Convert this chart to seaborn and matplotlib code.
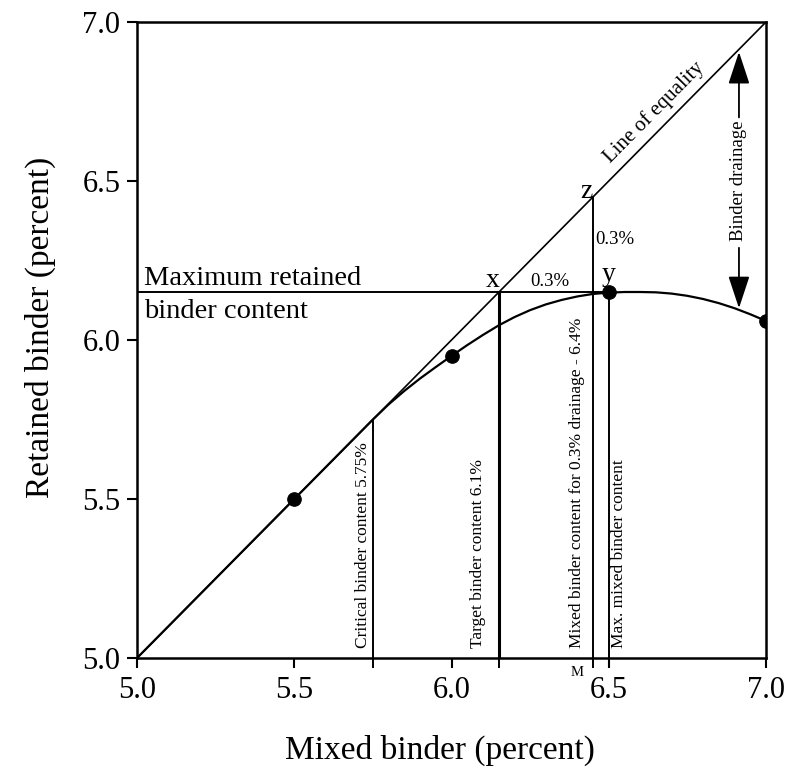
import matplotlib
matplotlib.use("Agg")
import matplotlib.pyplot as plt
import seaborn as sns
import pandas as pd

# ---- data ----
curve_x = [5.0, 5.5, 5.75, 5.8, 5.85, 5.9, 5.95, 6.0, 6.05, 6.1, 6.15, 6.2, 6.25,
           6.3, 6.35, 6.4, 6.45, 6.5, 6.55, 6.6, 6.65, 6.7, 6.75, 6.8, 6.85,
           6.9, 6.95, 7.0]
curve_y = [5.0, 5.5, 5.75, 5.7975, 5.840, 5.879, 5.915, 5.950, 5.984, 6.016,
           6.046, 6.072, 6.094, 6.112, 6.126, 6.137, 6.145, 6.149, 6.151, 6.151,
           6.150, 6.146, 6.139, 6.129, 6.116, 6.100, 6.081, 6.06]
points_x = [5.5, 6.0, 6.5, 7.0]
points_y = [5.5, 5.95, 6.15, 6.06]
equality_x = [5.0, 7.0]
equality_y = [5.0, 7.0]
max_retained = 6.15
critical = 5.75
target = 6.15
mixed_03 = 6.45
max_mixed = 6.5
drain_x = 6.914
drain_top = 6.906
drain_bottom = 6.10
ticks = [5.0, 5.5, 6.0, 6.5, 7.0]
tick_labels = ["5.0", "5.5", "6.0", "6.5", "7.0"]

sns.set_theme(style="ticks")
plt.rcParams["font.family"] = ["Liberation Serif", "DejaVu Serif"]
plt.rcParams["text.color"] = "black"
plt.rcParams["axes.labelcolor"] = "black"

fig = plt.figure(figsize=(7.91, 7.78), dpi=100)
ax = fig.add_axes([0.1732, 0.1542, 0.7952, 0.8175])

curve_df = pd.DataFrame({"x": curve_x, "y": curve_y})
pts_df = pd.DataFrame({"x": points_x, "y": points_y})
eq_df = pd.DataFrame({"x": equality_x, "y": equality_y})

sns.lineplot(data=eq_df, x="x", y="y", ax=ax, color="black", lw=1.2,
             sort=False, estimator=None)
sns.lineplot(data=curve_df, x="x", y="y", ax=ax, color="black", lw=1.6,
             sort=False, estimator=None)
sns.scatterplot(data=pts_df, x="x", y="y", ax=ax, color="black", s=95,
                edgecolor="black", zorder=5)

# reference lines
ax.plot([5.0, max_mixed], [max_retained, max_retained], color="black", lw=1.4)
ax.plot([critical, critical], [5.0, critical], color="black", lw=1.4)
ax.plot([target, target], [5.0, max_retained], color="black", lw=2.2)
ax.plot([mixed_03, mixed_03], [5.0, mixed_03], color="black", lw=1.4)
ax.plot([max_mixed, max_mixed], [5.0, max_retained], color="black", lw=1.4)

# binder drainage arrows
arrow_kw = dict(arrowstyle="-|>,head_length=1.0,head_width=0.33",
                color="black", lw=1.3, mutation_scale=20, shrinkA=0, shrinkB=0)
ax.annotate("", xy=(drain_x, drain_top), xytext=(drain_x, 6.70), arrowprops=arrow_kw)
ax.annotate("", xy=(drain_x, drain_bottom), xytext=(drain_x, 6.29), arrowprops=arrow_kw)
ax.text(drain_x, 6.50, "Binder drainage", rotation=90, ha="center", va="center",
        fontsize=13.5)

# annotations
ax.text(6.655, 6.705, "Line of equality", rotation=45.3, rotation_mode="anchor",
        ha="center", va="baseline", fontsize=15)
ax.text(5.022, 6.172, "Maximum retained", ha="left", va="baseline", fontsize=20.5)
ax.text(5.022, 6.068, "binder content", ha="left", va="baseline", fontsize=20.5)
ax.text(6.13, 6.167, "x", ha="center", va="baseline", fontsize=20)
ax.text(6.5, 6.187, "y", ha="center", va="baseline", fontsize=20)
ax.text(6.447, 6.447, "z", ha="right", va="baseline", fontsize=20)
ax.text(6.313, 6.170, "0.3%", ha="center", va="baseline", fontsize=13.5)
ax.text(6.457, 6.315, "0.3%", ha="left", va="center", fontsize=13.5)

ax.text(5.72, 5.03, "Critical binder content 5.75%", rotation=90,
        ha="center", va="bottom", fontsize=12.5)
ax.text(6.084, 5.03, "Target binder content 6.1%", rotation=90,
        ha="center", va="bottom", fontsize=12.5)
ax.text(6.40, 5.03, "Mixed binder content for 0.3% drainage - 6.4%", rotation=90,
        ha="center", va="bottom", fontsize=12.5)
ax.text(6.533, 5.03, "Max. mixed binder content", rotation=90,
        ha="center", va="bottom", fontsize=12.5)
ax.annotate("M", xy=(6.40, 0), xycoords=("data", "axes fraction"),
            xytext=(0, -6), textcoords="offset points", ha="center", va="top",
            fontsize=10.5)

# axes styling
ax.set_xlim(5.0, 7.0)
ax.set_ylim(5.0, 7.0)
ax.set_xticks(ticks)
ax.set_xticklabels(tick_labels)
ax.set_yticks(ticks)
ax.set_yticklabels(tick_labels)
ax.set_xticks([critical, target, mixed_03], minor=True)
ax.tick_params(axis="both", which="both", direction="out", length=7, width=1.5,
               colors="black", labelsize=22)
ax.tick_params(axis="x", which="major", pad=6)
ax.tick_params(axis="y", which="major", pad=5)
ax.tick_params(axis="x", which="minor", width=1.4)
for sp in ax.spines.values():
    sp.set_visible(True)
    sp.set_linewidth(1.8)
    sp.set_color("black")

ax.set_xlabel("Mixed binder (percent)", fontsize=24)
ax.set_ylabel("Retained binder (percent)", fontsize=24)
ax.xaxis.set_label_coords(0.482, -0.12)
ax.yaxis.set_label_coords(-0.128, 0.52)

fig.savefig("out.png", dpi=100)
